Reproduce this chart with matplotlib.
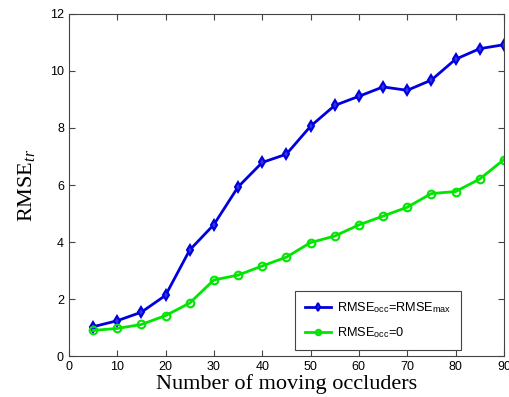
import numpy as np
import matplotlib.pyplot as plt

occluders = [5, 10, 15, 20, 25, 30, 35, 40, 45, 50, 55, 60, 65, 70, 75, 80, 85, 90]
rmse_max = [1.03, 1.24, 1.54, 2.13, 3.72, 4.61, 5.93, 6.79, 7.08, 8.06, 8.79, 9.11,
            9.44, 9.32, 9.68, 10.41, 10.78, 10.92]
rmse_zero = [0.90, 0.97, 1.11, 1.42, 1.86, 2.67, 2.84, 3.16, 3.47, 3.98, 4.21, 4.60,
             4.91, 5.22, 5.70, 5.77, 6.21, 6.89]

plt.rcParams['font.family'] = ['Liberation Sans', 'DejaVu Sans']
plt.rcParams['mathtext.fontset'] = 'custom'
plt.rcParams['mathtext.rm'] = 'Liberation Serif'
plt.rcParams['mathtext.it'] = 'Liberation Serif:italic'

fig = plt.figure(figsize=(5.1, 3.97), dpi=100)
ax = fig.add_axes([0.135, 0.103, 0.853, 0.862])

ax.plot(occluders, rmse_max, color='#0000dd', lw=2, marker='d', ms=5.5,
        mfc='#3333ee', mew=1.5, label=r'RMSE$_{\mathregular{occ}}$=RMSE$_{\mathregular{max}}$')
ax.plot(occluders, rmse_zero, color='#00e600', lw=2, marker='o', ms=5.5,
        mfc='none', mew=1.5, label=r'RMSE$_{\mathregular{occ}}$=0')

ax.set_xlim(0, 90)
ax.set_ylim(0, 12)
ax.set_xticks(np.arange(0, 91, 10))
ax.set_yticks(np.arange(0, 13, 2))
ax.tick_params(direction='in', top=True, right=True, labelsize=9, length=4,
               color='#444444')
for s in ax.spines.values():
    s.set_color('#444444')
    s.set_linewidth(0.8)

ax.set_xlabel('Number of moving occluders', family='Liberation Serif', fontsize=16,
              labelpad=1)
ax.set_ylabel(r'RMSE$_{tr}$', family='Liberation Serif', fontsize=16, labelpad=9)

leg = ax.legend(loc='lower right', bbox_to_anchor=(0.901, 0.018), borderaxespad=0,
                fontsize=9.2, fancybox=False, edgecolor='#444444', framealpha=1,
                handlelength=2.0, handletextpad=0.5, markerscale=0.7,
                borderpad=0.75, labelspacing=0.8)
leg.get_frame().set_linewidth(0.8)

fig.savefig('out.png', dpi=100)
